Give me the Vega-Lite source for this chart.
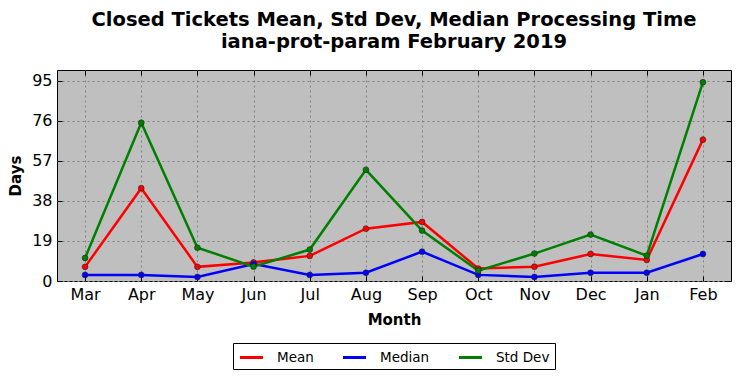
{
  "$schema": "https://vega.github.io/schema/vega-lite/v6.json",
  "width": 674,
  "height": 211,
  "autosize": {"type": "none"},
  "padding": {"left": 57, "top": 70, "right": 11, "bottom": 97},
  "background": "white",
  "title": {
    "text": ["Closed Tickets Mean, Std Dev, Median Processing Time", "iana-prot-param February 2019"],
    "font": "DejaVu Sans",
    "fontSize": 19.5,
    "fontWeight": "bold",
    "color": "black",
    "anchor": "middle",
    "offset": 17,
    "lineHeight": 22
  },
  "config": {
    "view": {"fill": "#bfbfbf", "stroke": "black", "strokeWidth": 1},
    "axis": {
      "labelFont": "DejaVu Sans",
      "labelFontSize": 16,
      "labelColor": "black",
      "titleFont": "DejaVu Sans",
      "titleFontSize": 15,
      "titleFontWeight": "bold",
      "titleColor": "black",
      "domain": false,
      "tickColor": "black",
      "tickSize": -5,
      "labelPadding": 10,
      "gridColor": "#808080",
      "gridDash": [2, 3],
      "gridWidth": 1,
      "grid": true
    },
    "legend": {
      "orient": "none",
      "legendX": 176,
      "legendY": 273,
      "direction": "horizontal",
      "labelFont": "DejaVu Sans",
      "labelFontSize": 13.5,
      "labelColor": "black",
      "symbolType": "M-1.5,0L1.5,0",
      "symbolSize": 235,
      "symbolOffset": 4,
      "symbolStrokeWidth": 3,
      "strokeColor": "black",
      "padding": 5,
      "columnPadding": 23,
      "labelOffset": 16,
      "title": null
    }
  },
  "data": {
    "values": [
      {"month": "Mar", "series": "Mean", "value": 6.7},
      {"month": "Apr", "series": "Mean", "value": 44},
      {"month": "May", "series": "Mean", "value": 6.7},
      {"month": "Jun", "series": "Mean", "value": 8.8},
      {"month": "Jul", "series": "Mean", "value": 11.9},
      {"month": "Aug", "series": "Mean", "value": 24.8},
      {"month": "Sep", "series": "Mean", "value": 28},
      {"month": "Oct", "series": "Mean", "value": 5.9},
      {"month": "Nov", "series": "Mean", "value": 6.8},
      {"month": "Dec", "series": "Mean", "value": 12.8},
      {"month": "Jan", "series": "Mean", "value": 10},
      {"month": "Feb", "series": "Mean", "value": 67},
      {"month": "Mar", "series": "Median", "value": 2.9},
      {"month": "Apr", "series": "Median", "value": 2.9},
      {"month": "May", "series": "Median", "value": 1.9},
      {"month": "Jun", "series": "Median", "value": 8.1},
      {"month": "Jul", "series": "Median", "value": 2.9},
      {"month": "Aug", "series": "Median", "value": 3.9},
      {"month": "Sep", "series": "Median", "value": 13.9},
      {"month": "Oct", "series": "Median", "value": 2.9},
      {"month": "Nov", "series": "Median", "value": 1.9},
      {"month": "Dec", "series": "Median", "value": 3.9},
      {"month": "Jan", "series": "Median", "value": 3.9},
      {"month": "Feb", "series": "Median", "value": 12.8},
      {"month": "Mar", "series": "Std Dev", "value": 10.9},
      {"month": "Apr", "series": "Std Dev", "value": 75},
      {"month": "May", "series": "Std Dev", "value": 15.8},
      {"month": "Jun", "series": "Std Dev", "value": 6.8},
      {"month": "Jul", "series": "Std Dev", "value": 14.9},
      {"month": "Aug", "series": "Std Dev", "value": 52.7},
      {"month": "Sep", "series": "Std Dev", "value": 23.9},
      {"month": "Oct", "series": "Std Dev", "value": 4.9},
      {"month": "Nov", "series": "Std Dev", "value": 13},
      {"month": "Dec", "series": "Std Dev", "value": 22},
      {"month": "Jan", "series": "Std Dev", "value": 12},
      {"month": "Feb", "series": "Std Dev", "value": 94.2}
    ]
  },
  "encoding": {
    "x": {
      "field": "month",
      "type": "ordinal",
      "sort": ["Mar", "Apr", "May", "Jun", "Jul", "Aug", "Sep", "Oct", "Nov", "Dec", "Jan", "Feb"],
      "scale": {"type": "point", "padding": 0.5}
    },
    "y": {
      "field": "value",
      "type": "quantitative",
      "scale": {"domain": [0, 100], "nice": false, "zero": true}
    },
    "color": {
      "field": "series",
      "type": "nominal",
      "scale": {"domain": ["Mean", "Median", "Std Dev"], "range": ["#ff0000", "#0000ff", "#008000"]}
    }
  },
  "resolve": {"axis": {"x": "independent", "y": "independent"}},
  "layer": [
    {
      "mark": {"type": "line", "strokeWidth": 2.5},
      "encoding": {
        "x": {"field": "month", "type": "ordinal", "sort": ["Mar", "Apr", "May", "Jun", "Jul", "Aug", "Sep", "Oct", "Nov", "Dec", "Jan", "Feb"], "scale": {"type": "point", "padding": 0.5}, "axis": {"orient": "bottom", "title": "Month", "labelAngle": 0, "titlePadding": 10}},
        "y": {"field": "value", "type": "quantitative", "scale": {"domain": [0, 100], "nice": false, "zero": true}, "axis": {"orient": "left", "title": "Days", "values": [0, 19, 38, 57, 76, 95], "titlePadding": 8}}
      }
    },
    {
      "mark": {"type": "point", "filled": true, "size": 34, "strokeWidth": 0.6, "opacity": 1},
      "encoding": {
        "stroke": {"value": "#222222"},
        "x": {"field": "month", "type": "ordinal", "sort": ["Mar", "Apr", "May", "Jun", "Jul", "Aug", "Sep", "Oct", "Nov", "Dec", "Jan", "Feb"], "scale": {"type": "point", "padding": 0.5}, "axis": {"orient": "top", "title": null, "labels": false, "grid": false}},
        "y": {"field": "value", "type": "quantitative", "scale": {"domain": [0, 100], "nice": false, "zero": true}, "axis": {"orient": "right", "title": null, "labels": false, "grid": false, "values": [0, 19, 38, 57, 76, 95]}}
      }
    }
  ]
}
